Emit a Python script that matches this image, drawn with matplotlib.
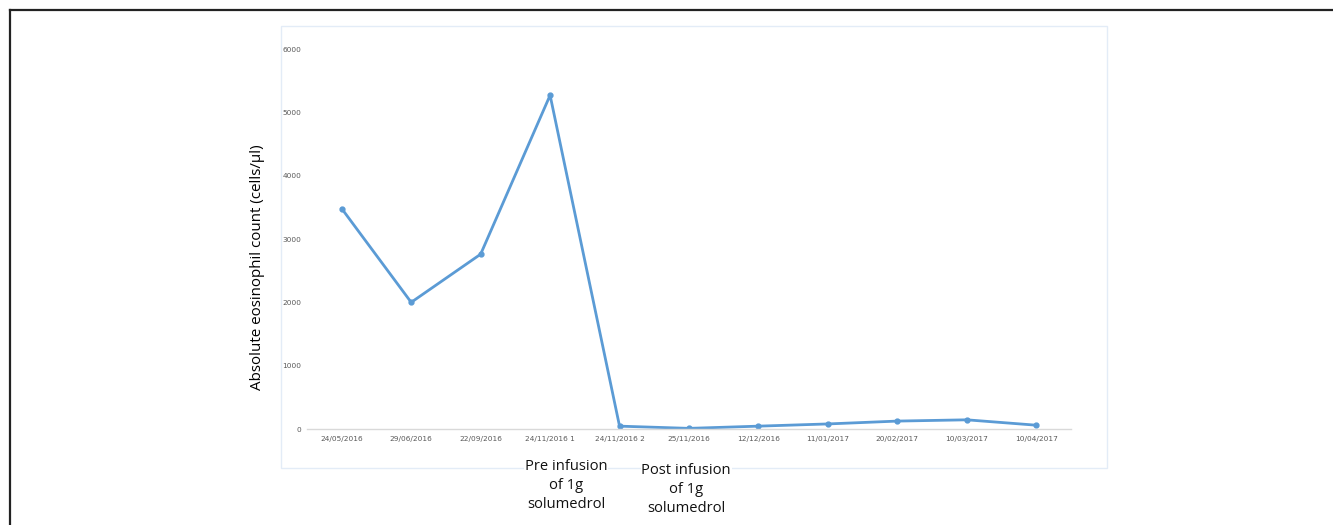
import matplotlib.pyplot as plt
import matplotlib.transforms as mtransforms
from matplotlib.lines import Line2D
from matplotlib.patches import Rectangle

# === data ===
dates = ["24/05/2016", "29/06/2016", "22/09/2016", "24/11/2016 1", "24/11/2016 2",
         "25/11/2016", "12/12/2016", "11/01/2017", "20/02/2017", "10/03/2017", "10/04/2017"]
counts = [3480, 2000, 2760, 5270, 45, 10, 45, 80, 125, 145, 60]
y_ticks = [0, 1000, 2000, 3000, 4000, 5000, 6000]

W, H = 1333, 525
fig = plt.figure(figsize=(W / 100, H / 100), dpi=100)

def fx(px):
    return px / W

def fy(py):
    return 1 - py / H

# outer frame (left and top only visible)
fig.add_artist(Line2D([fx(10), fx(10)], [fy(10), 0], color="#222222", lw=1.6))
fig.add_artist(Line2D([fx(10), 1], [fy(10), fy(10)], color="#222222", lw=1.6))

# inner chart area border
fig.add_artist(Rectangle((fx(281), fy(468)), fx(1107) - fx(281), fy(26) - fy(468),
                         fill=False, edgecolor="#e3ecf7", lw=1.0, zorder=-1))

ax = fig.add_axes([fx(307), fy(429), fx(1071) - fx(307), fy(49) - fy(429)])
ax.patch.set_alpha(0)
x = list(range(len(dates)))
ax.plot(x, counts, color="#5b9bd5", lw=2.0, marker="o", markersize=3.5)

ax.set_xlim(-0.5, len(dates) - 0.5)
ax.set_ylim(0, 6000)
ax.set_xticks(x)
ax.set_xticklabels(dates)
ax.set_yticks(y_ticks)
ax.tick_params(axis="both", length=0, labelsize=5.3, labelcolor="#595959")
ax.tick_params(axis="x", pad=5)
ax.tick_params(axis="y", pad=4)
for s in ["top", "right", "left"]:
    ax.spines[s].set_visible(False)
ax.spines["bottom"].set_color("#d9d9d9")
ax.spines["bottom"].set_linewidth(1.0)

ax.set_ylabel("Absolute eosinophil count (cells/\u00b5l)", fontsize=10.9,
              family=["Open Sans", "DejaVu Sans"], color="#000000")
ax.yaxis.set_label_coords(-0.055, 0.426)

# annotations below the axis
trans = mtransforms.blended_transform_factory(ax.transData, fig.transFigure)
box = dict(facecolor="white", edgecolor="none", pad=0.5)
ax.text(3.23, fy(459), "Pre infusion\nof 1g\nsolumedrol", transform=trans,
        ha="center", va="top", fontsize=10.6, linespacing=1.35,
        family=["Open Sans", "DejaVu Sans"], color="#111111", bbox=box)
ax.text(4.96, fy(463), "Post infusion\nof 1g\nsolumedrol", transform=trans,
        ha="center", va="top", fontsize=10.6, linespacing=1.35,
        family=["Open Sans", "DejaVu Sans"], color="#111111", bbox=box)

fig.savefig("out.png", dpi=100, facecolor="white")
